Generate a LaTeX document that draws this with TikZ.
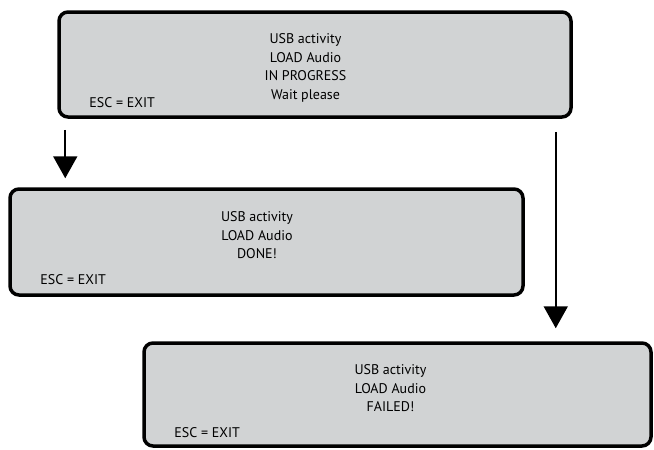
\documentclass[tikz,border=0pt]{standalone}
\usepackage{fontspec}
\setmainfont{PT Sans}
\usetikzlibrary{arrows.meta}
\definecolor{panel}{RGB}{209, 211, 212}

\begin{document}
\begin{tikzpicture}[x=1pt, y=-1pt,
  screen/.style={draw=black, fill=panel, line width=3.5pt, rounded corners=9pt, inner sep=0pt},
  msg/.style={align=center, font=\fontsize{14}{18.7}\selectfont, anchor=north, inner sep=0pt},
  esc/.style={font=\fontsize{14}{18.7}\selectfont, anchor=base west, inner sep=0pt},
  flow/.style={line width=2pt, -{Triangle[width=24pt, length=22pt]}}]
\useasboundingbox (0,0) rectangle (654,450);

\node[screen, minimum width=512pt, minimum height=105pt] (busy) at (315,64.5) {};
\node[msg] (busytxt) at ([xshift=-9.5pt, yshift=-23pt]busy.north) {USB activity\\LOAD Audio\\IN PROGRESS\\Wait please};
\node[esc] (busyesc) at ([xshift=32pt, yshift=11pt]busy.south west) {ESC = EXIT};

\node[screen, minimum width=513pt, minimum height=106pt] (done) at (266.5,242) {};
\node[msg] (donetxt) at ([xshift=-9.5pt, yshift=-24pt]done.north) {USB activity\\LOAD Audio\\DONE!};
\node[esc] (doneesc) at ([xshift=32pt, yshift=12pt]done.south west) {ESC = EXIT};

\node[screen, minimum width=507pt, minimum height=103pt] (fail) at (397.5,394.5) {};
\node[msg] (failtxt) at ([xshift=-7pt, yshift=-23pt]fail.north) {USB activity\\LOAD Audio\\FAILED!};
\node[esc] (failesc) at ([xshift=32pt, yshift=10pt]fail.south west) {ESC = EXIT};

\draw[flow, shorten <=11pt, shorten >=9pt] ([xshift=8pt]busy.south west) -- ([xshift=8pt]busy.south west |- done.north);
\draw[flow, shorten <=13pt, shorten >=13pt] ([xshift=-17pt]busy.south east) -- ([xshift=-17pt]busy.south east |- fail.north);
\end{tikzpicture}
\end{document}
